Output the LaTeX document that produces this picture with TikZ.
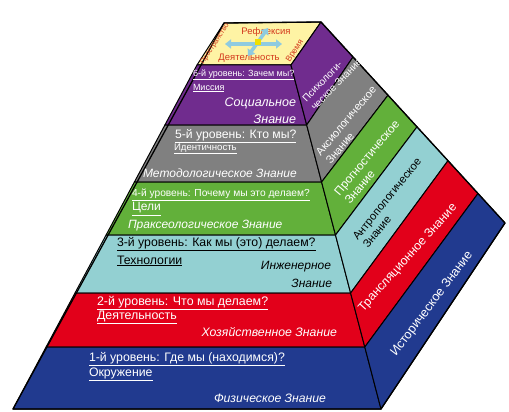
\documentclass[tikz,border=0pt]{standalone}
\usepackage{fontspec}
\setmainfont{Liberation Sans}
\usetikzlibrary{arrows.meta}
\definecolor{purp}{HTML}{702C8E}
\definecolor{grayb}{HTML}{808080}
\definecolor{greenb}{HTML}{62B03A}
\definecolor{cyanb}{HTML}{93D0D2}
\definecolor{redb}{HTML}{E2001A}
\definecolor{blueb}{HTML}{213A8F}
\definecolor{yellowb}{HTML}{FEF3A4}
\definecolor{arrowblue}{HTML}{8FCBE0}
\definecolor{topred}{HTML}{D3381C}
\definecolor{dotyellow}{HTML}{F0E000}
\newcommand{\fs}[1]{\fontsize{#1}{#1}\selectfont}
\newcommand{\fsl}[2]{\fontsize{#1}{#2}\selectfont}
\begin{document}
\begin{tikzpicture}[x=1pt,y=-1pt,
  every node/.style={inner sep=0pt,outer sep=0pt},
  band/.style={draw=black,line width=1pt,line join=round},
  lvl/.style={text=white,anchor=west},
  know/.style={text=white,anchor=east,font=\itshape},
  side/.style={text=white,align=left},
  toptext/.style={text=topred},
  dblarrow/.style={draw=arrowblue,line width=3.5pt,
    arrows={Triangle[width=9pt,length=6pt]-Triangle[width=9pt,length=6pt]}}]
\useasboundingbox (0,0) rectangle (509,412);
\fill[white] (0,0) rectangle (509,412);
% coordinates
\coordinate (L0) at (197,65);   \coordinate (R0) at (291,65);
\coordinate (L1) at (164.9,125);\coordinate (R1) at (306.7,125);
\coordinate (L2) at (134.4,182);\coordinate (R2) at (321.6,182);
\coordinate (L3) at (106.1,235);\coordinate (R3) at (335.5,235);
\coordinate (L4) at (75.0,293); \coordinate (R4) at (350.6,293);
\coordinate (L5) at (46.1,347); \coordinate (R5) at (364.8,347);
\coordinate (L6) at (13,409);   \coordinate (R6) at (381,409);
\coordinate (O0) at (321,22);
\coordinate (O1) at (353,57);
\coordinate (O2) at (388,95.2);
\coordinate (O3) at (417,126.9);
\coordinate (O4) at (448,160.7);
\coordinate (O5) at (478,193.5);
\coordinate (O6) at (505,223);
\coordinate (T0) at (224,23);
% top face
\filldraw[band,fill=yellowb] (T0) -- (O0) -- (R0) -- (L0) -- cycle;
% front bands
\filldraw[band,fill=purp]   (L0) -- (R0) -- (R1) -- (L1) -- cycle;
\filldraw[band,fill=grayb]  (L1) -- (R1) -- (R2) -- (L2) -- cycle;
\filldraw[band,fill=greenb] (L2) -- (R2) -- (R3) -- (L3) -- cycle;
\filldraw[band,fill=cyanb]  (L3) -- (R3) -- (R4) -- (L4) -- cycle;
\filldraw[band,fill=redb]   (L4) -- (R4) -- (R5) -- (L5) -- cycle;
\filldraw[band,fill=blueb]  (L5) -- (R5) -- (R6) -- (L6) -- cycle;
% side bands
\filldraw[band,fill=purp]   (R0) -- (O0) -- (O1) -- (R1) -- cycle;
\filldraw[band,fill=grayb]  (R1) -- (O1) -- (O2) -- (R2) -- cycle;
\filldraw[band,fill=greenb] (R2) -- (O2) -- (O3) -- (R3) -- cycle;
\filldraw[band,fill=cyanb]  (R3) -- (O3) -- (O4) -- (R4) -- cycle;
\filldraw[band,fill=redb]   (R4) -- (O4) -- (O5) -- (R5) -- cycle;
\filldraw[band,fill=blueb]  (R5) -- (O5) -- (O6) -- (R6) -- cycle;
% outline
\draw[line width=1.3pt,line join=round] (T0) -- (O0) -- (O6) -- (R6) -- (L6) -- cycle;
% top face text
\node[toptext,font=\fs{9.5}] (refl) at (266,32) {Рефлексия};
\node[toptext,font=\fs{9.5}] (deyat) at (249,58) {Деятельность};
\node[toptext,font=\fs{7.2},rotate=57] (prostr) at (215,44) {Пространство};
\node[toptext,font=\fs{8.3},rotate=57] (vremya) at (295,51) {Время};
\coordinate (hA) at (225,44); \coordinate (hB) at (282,44);
\coordinate (dA) at (248,56); \coordinate (dB) at (268,28);
\draw[dblarrow] (hA) -- (hB);
\draw[dblarrow] (dA) -- (dB);
\fill[dotyellow] (255,39.5) rectangle (261,45.5);
% front texts
\node[lvl,font=\fs{9}] (l6a) at (193,75) {\underline{6-й уровень: Зачем мы?}};
\node[lvl,font=\fs{9}] (l6b) at (193,88) {\underline{Миссия}};
\node[know,font=\fs{12.5}\itshape] (k6a) at (296,103) {Социальное};
\node[know,font=\fs{12.5}\itshape] (k6b) at (296,119) {Знание};
\node[lvl,font=\fs{12.2}] (l5a) at (175,136) {\underline{5-й уровень: Кто мы?}};
\node[lvl,font=\fs{9.6}] (l5b) at (174,149) {\underline{Идентичность}};
\node[text=white,anchor=west,font=\fs{12}\itshape] (k5) at (143,173) {Методологическое Знание};
\node[lvl,font=\fs{10.2}] (l4a) at (132,195) {\underline{4-й уровень: Почему мы это делаем?}};
\node[lvl,font=\fs{12}] (l4b) at (132,209) {\underline{Цели}};
\node[text=white,anchor=west,font=\fs{12}\itshape] (k4) at (128,226) {Праксеологическое Знание};
\node[lvl,text=black,font=\fs{12.3}] (l3a) at (117,244) {\underline{3-й уровень: Как мы (это) делаем?}};
\node[lvl,text=black,font=\fs{12.3}] (l3b) at (117,261) {\underline{Технологии}};
\node[know,text=black,font=\fs{12}\itshape] (k3a) at (331,267) {Инженерное};
\node[know,text=black,font=\fs{12}\itshape] (k3b) at (332,283) {Знание};
\node[lvl,font=\fs{12.4}] (l2a) at (97,303) {\underline{2-й уровень: Что мы делаем?}};
\node[lvl,font=\fs{12.4}] (l2b) at (97,317) {\underline{Деятельность}};
\node[know,font=\fs{12.3}\itshape] (k2) at (337,332) {Хозяйственное Знание};
\node[lvl,font=\fs{12.3}] (l1a) at (89,359) {\underline{1-й уровень: Где мы (находимся)?}};
\node[lvl,font=\fs{12.3}] (l1b) at (89,374) {\underline{Окружение}};
\node[know,font=\fs{12.2}\itshape] (k1) at (326,398) {Физическое Знание};
% side texts
\node[side,font=\fsl{10}{12},rotate=46] (s6) at (332,80) {Психологи-\\ческое Знание};
\node[side,font=\fsl{11}{13},rotate=50] (s5) at (351,125) {Аксиологическое\\Знание};
\node[side,font=\fsl{11.8}{13.5},rotate=50] (s4) at (372,162) {Прогностическое\\Знание};
\node[side,text=black,font=\fsl{11.2}{13},rotate=51] (s3) at (392,203) {Антропологическое\\Знание};
\node[side,font=\fs{12.3},rotate=48] (s2) at (408,258) {Трансляционное Знание};
\node[side,font=\fs{12.6},rotate=53] (s1) at (432,304) {Историческое Знание};
\end{tikzpicture}
\end{document}
